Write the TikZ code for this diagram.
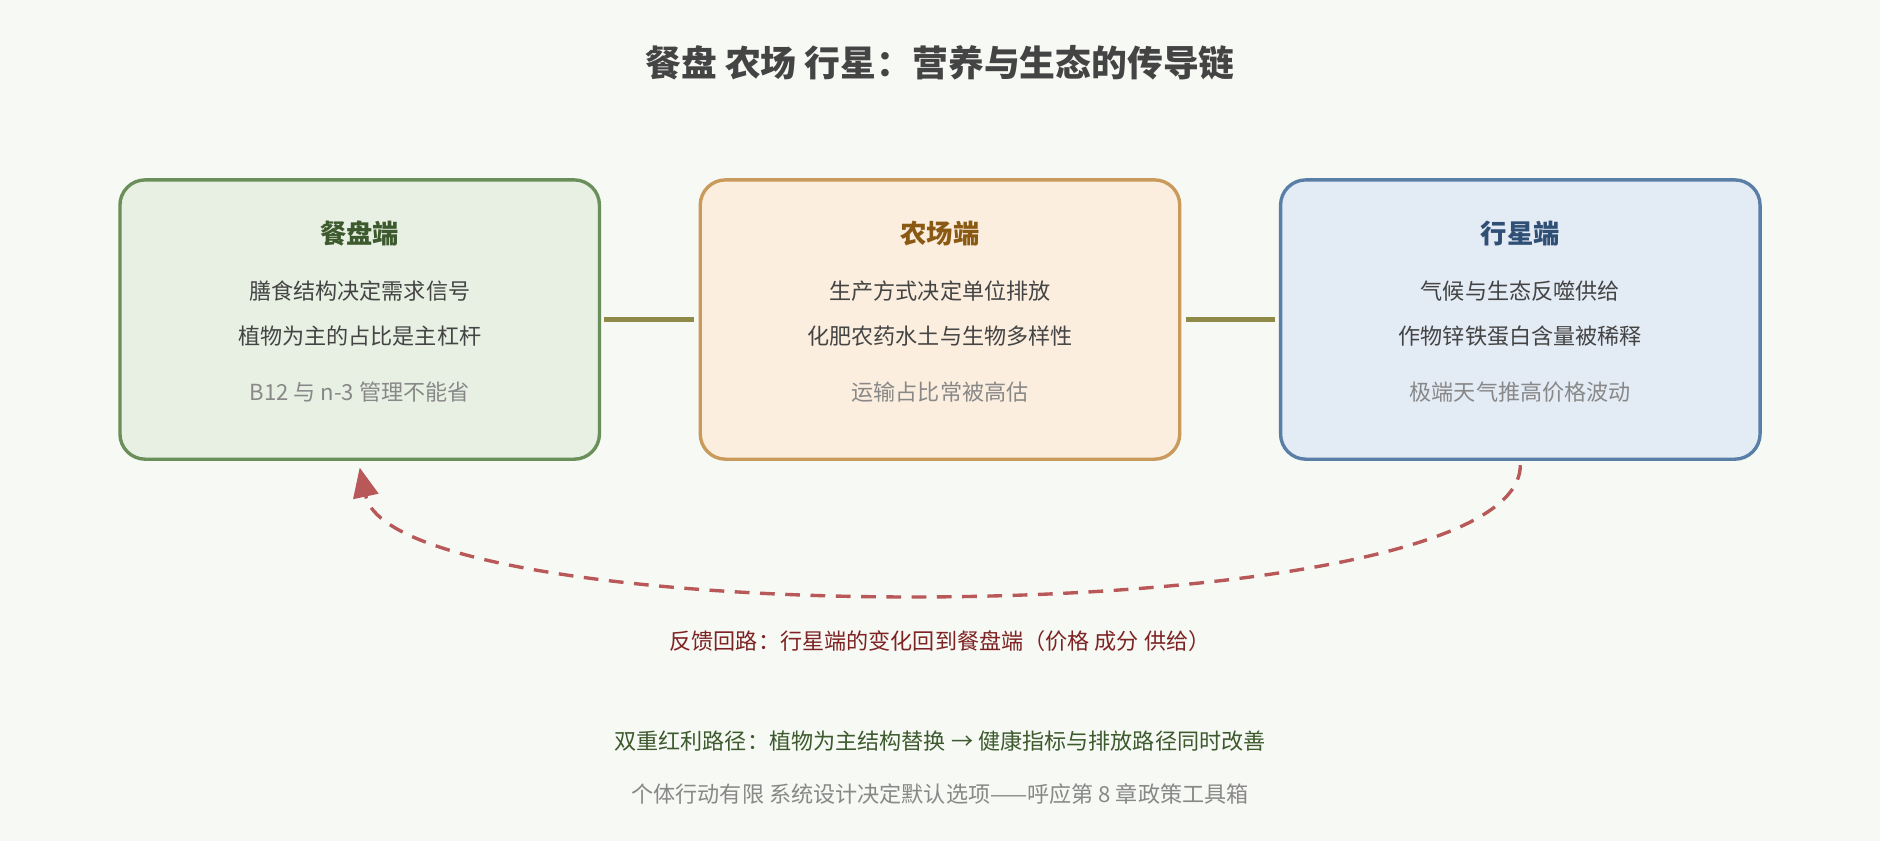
\documentclass[tikz,border=0pt]{standalone}
\usepackage{fontspec}
\setmainfont{Noto Sans CJK SC}
\usetikzlibrary{arrows.meta}
\definecolor{bg}{HTML}{F7F9F4}
\definecolor{txt}{HTML}{444444}
\definecolor{gry}{HTML}{888888}
\begin{document}
\begin{tikzpicture}[x=0.02cm,y=-0.02cm,
  box/.style={draw, line width=1.6pt, rounded corners=12pt, minimum width=8cm, minimum height=4.66cm},
  ttl/.style={font=\fontsize{12.5}{15}\selectfont\bfseries},
  body/.style={text=txt, font=\fontsize{10.5}{13}\selectfont},
  note/.style={text=gry, font=\fontsize{10.5}{13}\selectfont},
  link/.style={draw=olive!50!gray, line width=2.2pt}]
\fill[bg] (0,0) rectangle (1568,701);
\useasboundingbox (0,0) rectangle (1568,701);
\node[text=txt, font=\fontsize{17}{20}\selectfont\bfseries] (title) at (784,52) {餐盘 农场 行星：营养与生态的传导链};
\node[box, draw={rgb,255:red,106;green,143;blue,90}, fill={rgb,255:red,232;green,240;blue,227}] (b1) at (300,266.5) {};
\node[box, draw={rgb,255:red,201;green,154;blue,91}, fill={rgb,255:red,251;green,238;blue,222}] (b2) at (784,266.5) {};
\node[box, draw={rgb,255:red,90;green,127;blue,166}, fill={rgb,255:red,227;green,235;blue,245}] (b3) at (1268,266.5) {};
\node[ttl, text={rgb,255:red,61;green,90;blue,46}] (t1) at (300,195) {餐盘端};
\node[body] (l11) at (300,243) {膳食结构决定需求信号};
\node[body] (l12) at (300,280) {植物为主的占比是主杠杆};
\node[note] (n1) at (300,327) {B12 与 n-3 管理不能省};
\node[ttl, text={rgb,255:red,138;green,90;blue,20}] (t2) at (784,195) {农场端};
\node[body] (l21) at (784,243) {生产方式决定单位排放};
\node[body] (l22) at (784,280) {化肥农药水土与生物多样性};
\node[note] (n2) at (784,327) {运输占比常被高估};
\node[ttl, text={rgb,255:red,47;green,79;blue,117}] (t3) at (1268,195) {行星端};
\node[body] (l31) at (1268,243) {气候与生态反噬供给};
\node[body] (l32) at (1268,280) {作物锌铁蛋白含量被稀释};
\node[note] (n3) at (1268,327) {极端天气推高价格波动};
\draw[link] (b1.east) ++(2,0) coordinate (c1) -- ([xshift=-2]b2.west);
\draw[link] ([xshift=2]b2.east) -- ([xshift=-2]b3.west);
\coordinate (s) at (1268,388);
\coordinate (e) at (300,390);
\draw[dashed, dash pattern=on 7pt off 5pt, line width=1.6pt, draw={rgb,255:red,184;green,88;blue,88}, -{Triangle[length=14pt,width=12pt]}] (s) .. controls (1268,530) and (330,530) .. (e);
\node[text={rgb,255:red,125;green,35;blue,35}, font=\fontsize{10.5}{13}\selectfont] (fb) at (784,535) {反馈回路：行星端的变化回到餐盘端（价格 成分 供给）};
\node[text={rgb,255:red,61;green,90;blue,46}, font=\fontsize{10.5}{13}\selectfont] (d1) at (784,618) {双重红利路径：植物为主结构替换 → 健康指标与排放路径同时改善};
\node[note] (d2) at (784,662) {个体行动有限 系统设计决定默认选项——呼应第 8 章政策工具箱};
\end{tikzpicture}
\end{document}
